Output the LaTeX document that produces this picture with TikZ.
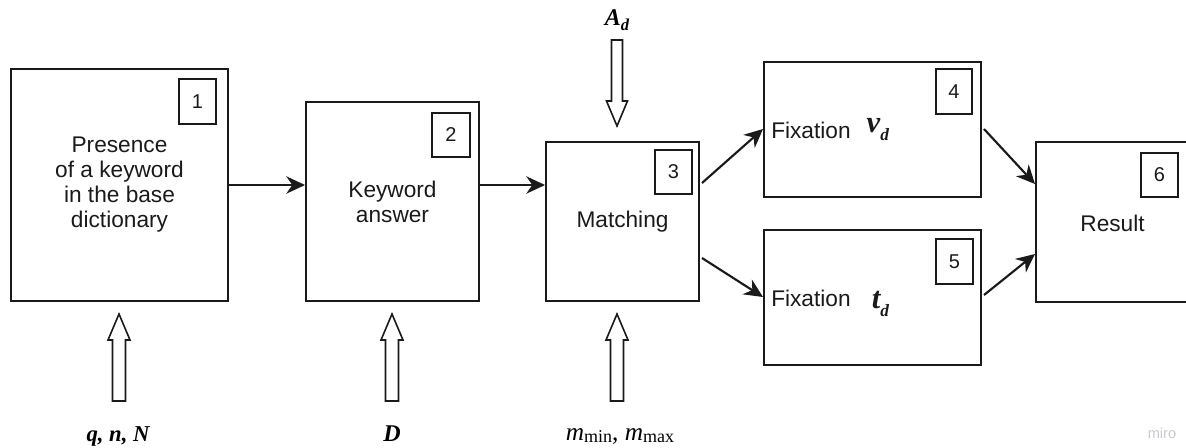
\documentclass[tikz,border=0pt]{standalone}
\usepackage{fontspec}
\setmainfont{Liberation Sans}
\newfontfamily\tms{Liberation Serif}
\usetikzlibrary{arrows.meta,calc}
\definecolor{ink}{HTML}{1A1A1A}
\definecolor{wmgray}{HTML}{C8C8D2}
\newcommand\blockup[1]{\draw[blockarrow] (#1) -- ++(11,26) -- ++(-4.5,0) -- ++(0,61) -- ++(-13,0) -- ++(0,-61) -- ++(-4.5,0) -- cycle;}
\newcommand\blockdown[1]{\draw[blockarrow] (#1) -- ++(10.5,-25) -- ++(-5,0) -- ++(0,-61) -- ++(-11,0) -- ++(0,61) -- ++(-5,0) -- cycle;}
\newcommand\bsym[3]{{\fontsize{#1}{#1}\selectfont\tms\bfseries\itshape #2}\raisebox{-6pt}{\fontsize{13}{13}\selectfont\tms\bfseries\itshape #3}}
\begin{document}
\begin{tikzpicture}[x=0.75pt,y=-0.75pt,
  box/.style={draw=ink,line width=1.5pt,inner sep=0pt,align=center,text=ink,
    font=\fontsize{17}{18.75}\selectfont},
  tag/.style={draw=ink,line width=1.5pt,inner sep=0pt,text=ink,
    font=\fontsize{15}{15}\selectfont},
  link/.style={draw=ink,line width=1.6pt,-{Stealth[length=14pt,width=13pt,inset=4.5pt]}},
  blockarrow/.style={draw=ink,line width=1.2pt,fill=white,line join=miter},
  lbl/.style={inner sep=0pt,anchor=base,text=black}]
\useasboundingbox (0,0) rectangle (1186,447);

% main boxes
\node[box,minimum width=162.75pt,minimum height=174pt] (b1) at (119.5,185) {Presence\\of a keyword\\in the base\\dictionary};
\node[box,minimum width=129.75pt,minimum height=149.25pt] (b2) at (392.5,201.5) {Keyword\\answer};
\node[box,minimum width=114.75pt,minimum height=119.25pt] (b3) at (622.5,221.5) {Matching};
\node[box,minimum width=162.75pt,minimum height=101.25pt] (b4) at (872.5,129.5) {};
\node[box,minimum width=162.75pt,minimum height=101.25pt] (b5) at (872.5,297.5) {};
\node[box,minimum width=116.25pt,minimum height=120pt] (b6) at (1113.5,222) {};
\node[inner sep=0pt,text=ink,font=\fontsize{17}{17}\selectfont] (r6) at (1112.5,223) {Result};

% fixation labels
\node[inner sep=0pt,anchor=base west,text=ink,font=\fontsize{17}{17}\selectfont] (f4) at ($(b4.west)+(8,8.5)$)
  {Fixation\hspace{12pt}\raisebox{4pt}{\bsym{23}{v}{d}}};
\node[inner sep=0pt,anchor=base west,text=ink,font=\fontsize{17}{17}\selectfont] (f5) at ($(b5.west)+(8,8.5)$)
  {Fixation\hspace{16pt}\raisebox{-1.5pt}{\bsym{23}{t}{d}}};

% number tags
\node[tag,minimum width=27.75pt,minimum height=33.75pt] (n1) at (197.5,101.5) {1};
\node[tag,minimum width=28.5pt,minimum height=33pt] (n2) at (451,135) {2};
\node[tag,minimum width=27.75pt,minimum height=33pt] (n3) at (673.5,172) {3};
\node[tag,minimum width=27pt,minimum height=33.75pt] (n4) at (954,91.5) {4};
\node[tag,minimum width=27.75pt,minimum height=33.75pt] (n5) at (954.5,261.5) {5};
\node[tag,minimum width=27.75pt,minimum height=33pt] (n6) at (1159.5,175) {6};

% connectors
\draw[link] ($(b1.north east)+(0,117)$) -- ($(b2.north west)+(0,84)$);
\draw[link] ($(b2.north east)+(0,84)$) -- ($(b3.north west)+(0,44)$);
\draw[link] ($(b3.north east)+(2,42)$) -- ($(b4.north west)+(0,68)$);
\draw[link] ($(b3.north east)+(2,117)$) -- ($(b5.north west)+(0,68)$);
\draw[link] ($(b4.north east)+(2,68)$) -- ($(b6.north west)+(0,43)$);
\draw[link] ($(b5.north east)+(2,66)$) -- ($(b6.north west)+(0,113)$);

% input labels
\node[lbl,font=\fontsize{17}{17}\selectfont\tms\bfseries\itshape] (lq) at (118,441) {q, n, N};
\node[lbl,font=\fontsize{18}{18}\selectfont\tms\bfseries\itshape] (lD) at (392,441) {D};
\node[lbl] (lm) at (620,440) {{\fontsize{19}{19}\selectfont\tms\itshape m}\raisebox{-2pt}{\fontsize{13.5}{13.5}\selectfont\tms min}{\fontsize{19}{19}\selectfont\tms , \itshape m}\raisebox{-2pt}{\fontsize{13.5}{13.5}\selectfont\tms max}};
\node[lbl] (lA) at (617,25) {{\fontsize{18}{18}\selectfont\tms\bfseries\itshape A}\raisebox{-4pt}{\fontsize{12.5}{12.5}\selectfont\tms\bfseries\itshape d}};

% block arrows
\blockup{$(b1.south)+(-0.5,12)$}
\blockup{$(b2.south)+(-0.5,12)$}
\blockup{$(b3.south)+(-5.5,12)$}
\blockdown{$(b3.north)+(-5.5,-15)$}

% watermark
\node[lbl,text=wmgray,font=\fontsize{11}{11}\selectfont] (wm) at (1162,438) {miro};
\end{tikzpicture}
\end{document}
